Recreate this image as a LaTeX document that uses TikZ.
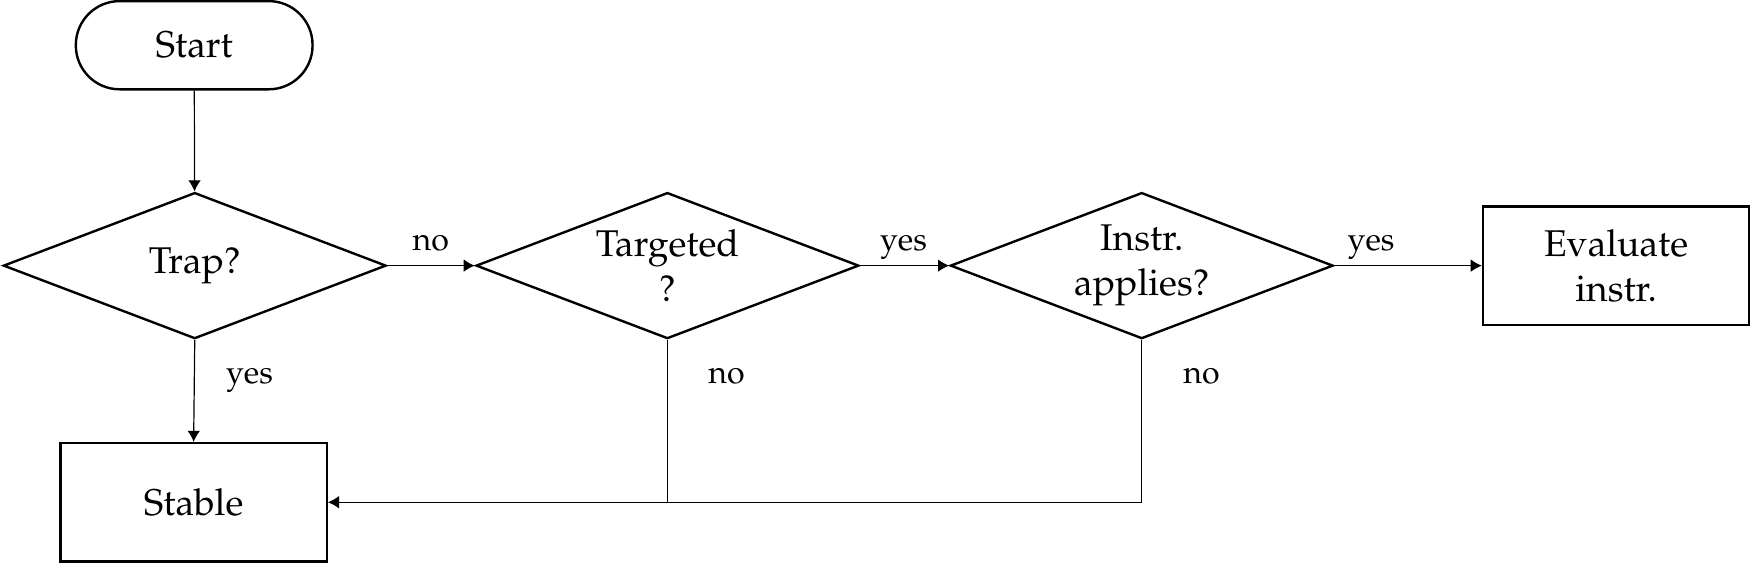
\documentclass[tikz,border=0pt]{standalone}
\usepackage[T1]{fontenc}
\usepackage{mathpazo}
\usepackage{amsmath}
\usetikzlibrary{calc}
\usetikzlibrary{positioning}
\usetikzlibrary{shapes.geometric}
\usetikzlibrary{arrows.meta}

\begin{document}
\begin{tikzpicture}[x=0.372pt, y=-0.372pt,
    term/.style={rectangle, rounded corners=14.6pt, draw=black, line width=0.8pt, minimum width=78.9pt, minimum height=29.4pt, font=\fontsize{12.4}{14.9}\selectfont},
    decision/.style={diamond, draw=black, line width=0.8pt, aspect=2.62, inner sep=0pt, minimum width=127.6pt, minimum height=48.7pt, align=center, font=\fontsize{12.4}{14.9}\selectfont},
    box/.style={rectangle, draw=black, line width=0.8pt, minimum width=88.7pt, minimum height=39.4pt, align=center, font=\fontsize{12.4}{14.9}\selectfont},
    arr/.style={-{Latex[length=3.7pt,width=4.2pt]}, line width=0.4pt},
    lbl/.style={font=\fontsize{10.7}{12}\selectfont, anchor=base}]
            \useasboundingbox (0, 0) rectangle (1568, 504.5);
            \node[term] (start) at (174, 40.5) {Start};
            \node[decision] (trap) at (174.5, 238) {Trap?};
            \node[decision] (targ) at (598, 238) {Targeted\\?};
            \node[decision] (instr) at (1023, 238) {Instr.\\applies?};
            \node[box] (eval) at (1448, 238) {Evaluate\\instr.};
            \node[box] (stable) at (173.5, 450) {Stable};
            \coordinate (jt) at (targ.south |- stable.east);
            \coordinate (ji) at (instr.south |- stable.east);
            \draw[arr] (start) -- (trap);
            \draw[arr] (trap.east) -- (targ.west);
            \draw[arr] (targ.east) -- (instr.west);
            \draw[arr] (instr.east) -- (eval.west);
            \draw[arr] (trap.south) -- (stable.north);
            \draw[arr] (targ.south) -- (jt) -- (stable.east);
            \draw[line width=0.4pt] (instr.south) -- (ji) -- (jt);
            \def\L{no/386/224, yes/809.5/224, yes/1228.5/224, yes/223.5/344, no/651/344, no/1076.5/344}
            \foreach \t/\x/\y[count=\i from 1] in \L
            {
                \node[lbl] (lbl\i) at (\x, \y) {\t};
            }
        \end{tikzpicture}
\end{document}
